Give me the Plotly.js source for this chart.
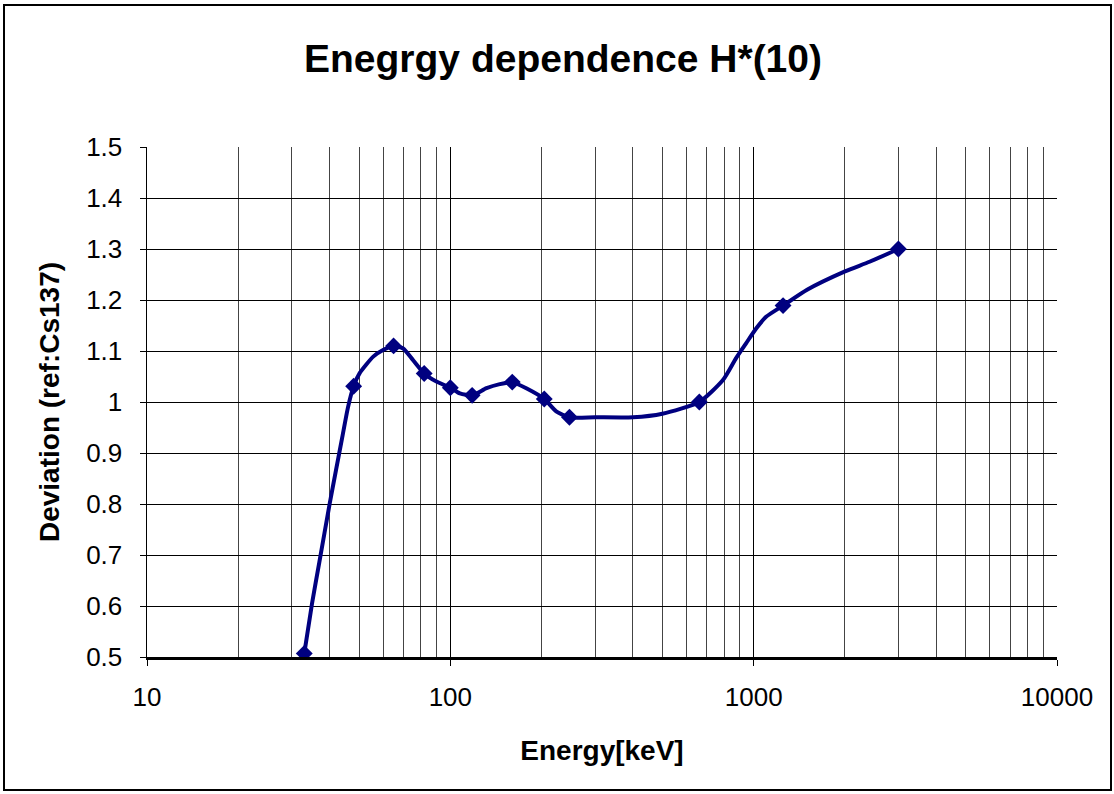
<!DOCTYPE html>
<html>
<head>
<meta charset="utf-8">
<script src="https://cdn.plot.ly/plotly-3.0.1.min.js"></script>
<style>
html,body{margin:0;padding:0;background:#fff;}
#chart{width:1114px;height:794px;}
</style>
</head>
<body>
<div id="chart"></div>
<script>
// Smoothed response curve
const curveEnergy = [33, 35, 37, 40, 42, 44, 46, 48, 50.3, 55.7, 60, 65, 69.9, 75.4, 82, 90, 100, 107.5, 118, 131.6, 145.5, 160, 178, 204, 224, 247, 300, 400, 500, 662, 792, 875, 944, 1019, 1099, 1250, 1500, 2000, 2410, 3000];
const curveValue  = [0.507, 0.605, 0.686, 0.80, 0.867, 0.93, 0.99, 1.031, 1.057, 1.089, 1.102, 1.11, 1.105, 1.082, 1.056, 1.04, 1.028, 1.017, 1.013, 1.027, 1.035, 1.039, 1.027, 1.006, 0.981, 0.970, 0.970, 0.970, 0.977, 1.0, 1.043, 1.086, 1.115, 1.144, 1.167, 1.189, 1.22, 1.256, 1.275, 1.30];

// Measured points (markers)
const pointEnergy = [33, 48, 65, 82, 100, 118, 160, 204, 247, 662, 1250, 3000];
const pointValue  = [0.507, 1.031, 1.11, 1.056, 1.028, 1.013, 1.039, 1.006, 0.970, 1.0, 1.189, 1.30];

// Axis tick labels
const xTickValues = [10, 100, 1000, 10000];
const xTickLabels = ['10', '100', '1000', '10000'];

const titleText = 'Enegrgy dependence H*(10)';
const xTitle = 'Energy[keV]';
const yTitle = 'Deviation (ref:Cs137)';

const navy = '#000080';
const FONT = '"Liberation Sans", Arial, sans-serif';

const traces = [
  {
    x: curveEnergy, y: curveValue, type: 'scatter', mode: 'lines',
    line: {color: navy, width: 4, shape: 'spline', smoothing: 0.6},
    hoverinfo: 'skip', showlegend: false
  },
  {
    x: pointEnergy, y: pointValue, type: 'scatter', mode: 'markers',
    marker: {symbol: 'diamond', size: 13, color: navy},
    showlegend: false
  }
];

const L = 147, R = 57, T = 147, B = 137;
const pw = 1114 - L - R, ph = 794 - T - B;

const layout = {
  width: 1114, height: 794,
  margin: {l: L, r: R, t: T, b: B, pad: 0},
  paper_bgcolor: '#ffffff', plot_bgcolor: '#ffffff',
  font: {family: FONT, color: '#000'},
  showlegend: false,
  title: {
    text: titleText,
    font: {family: FONT, size: 39, color: '#000', weight: 'bold'},
    x: 563/1114, xref: 'container', xanchor: 'center',
    y: 1 - 58/794, yref: 'container', yanchor: 'middle'
  },
  xaxis: {
    type: 'log', range: [1, 4],
    tickmode: 'array', tickvals: xTickValues, ticktext: xTickLabels,
    tickfont: {family: FONT, size: 26, color: '#000'},
    ticks: 'outside', ticklen: 6, tickcolor: '#000', tickwidth: 1,
    ticklabelstandoff: 9,
    showgrid: true, gridcolor: '#000', gridwidth: 1,
    minor: {dtick: 'D1', showgrid: true, gridcolor: '#444', gridwidth: 1, ticks: ''},
    showline: true, linecolor: '#000', linewidth: 2.5,
    zeroline: false,
    title: {text: xTitle, font: {family: FONT, size: 28, color: '#000', weight: 'bold'}, standoff: 30},
    automargin: false
  },
  yaxis: {
    range: [0.5, 1.5],
    tickmode: 'linear', tick0: 0.5, dtick: 0.1,
    tickfont: {family: FONT, size: 26, color: '#000'},
    ticks: 'outside', ticklen: 6, tickcolor: '#000', tickwidth: 1,
    ticklabelstandoff: 12,
    showgrid: true, gridcolor: '#000', gridwidth: 1,
    showline: true, linecolor: '#000', linewidth: 1.5,
    zeroline: false,
    title: {text: yTitle, font: {family: FONT, size: 28, color: '#000', weight: 'bold'}, standoff: 18},
    automargin: false
  },
  shapes: [
    {
      type: 'rect', xref: 'paper', yref: 'paper',
      x0: (4 - L)/pw, x1: (1111 - L)/pw,
      y0: (657 - 790)/ph, y1: (657 - 5)/ph,
      line: {color: '#000', width: 2}, fillcolor: 'rgba(0,0,0,0)', layer: 'below'
    }
  ]
};

Plotly.newPlot('chart', traces, layout, {displayModeBar: false, staticPlot: true});
</script>
</body>
</html>
